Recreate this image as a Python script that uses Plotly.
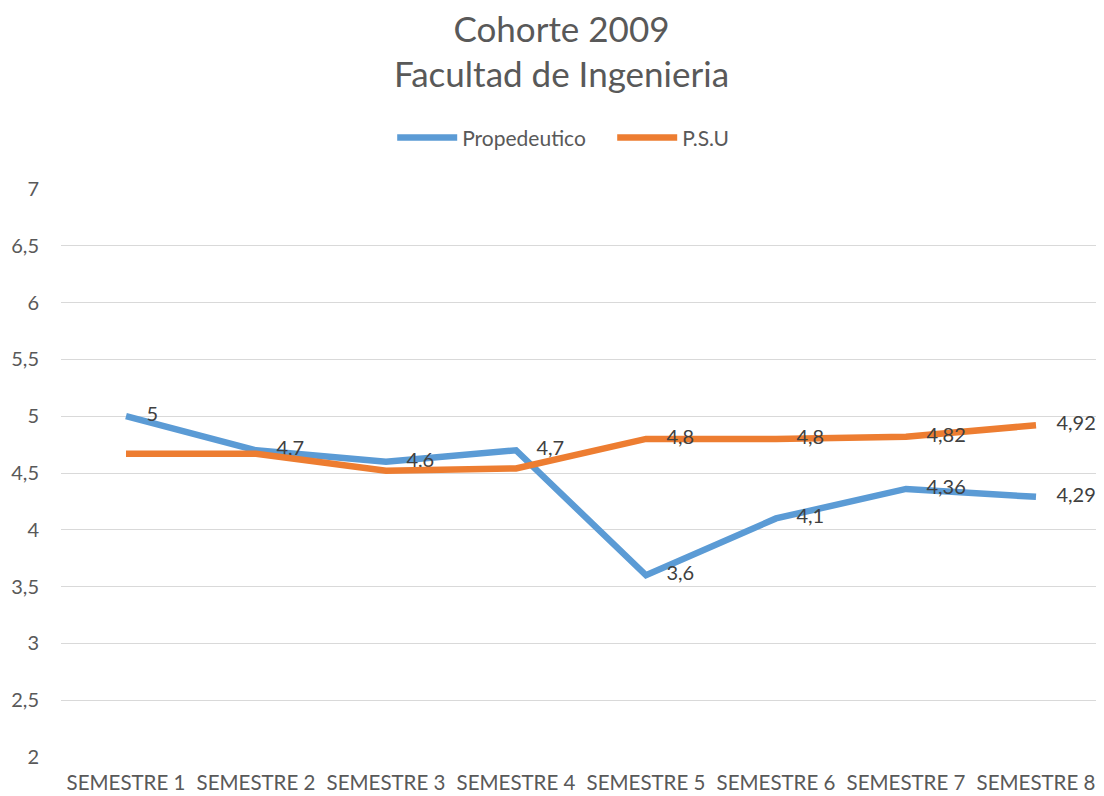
import plotly.graph_objects as go

categories = ["SEMESTRE 1", "SEMESTRE 2", "SEMESTRE 3", "SEMESTRE 4",
              "SEMESTRE 5", "SEMESTRE 6", "SEMESTRE 7", "SEMESTRE 8"]
propedeutico = [5, 4.7, 4.6, 4.7, 3.6, 4.1, 4.36, 4.29]
psu = [4.67, 4.67, 4.52, 4.54, 4.8, 4.8, 4.82, 4.92]
prop_labels = ["5", "4,7", "4,6", "4,7", "3,6", "4,1", "4,36", "4,29"]
psu_labels = ["", "", "", "", "4,8", "4,8", "4,82", "4,92"]
y_ticks = [2, 2.5, 3, 3.5, 4, 4.5, 5, 5.5, 6, 6.5, 7]

FONT = "Lato"
TXT = "#404040"
GREY = "#595959"
PAD = "    "

fig = go.Figure()
fig.add_trace(go.Scatter(
    x=categories, y=propedeutico, name="Propedeutico", mode="lines+text",
    line=dict(color="#5B9BD5", width=6.5),
    text=[PAD + t for t in prop_labels], textposition="middle right",
    textfont=dict(family=FONT, size=20, color=TXT), cliponaxis=False,
))
fig.add_trace(go.Scatter(
    x=categories, y=psu, name="P.S.U", mode="lines+text",
    line=dict(color="#ED7D31", width=6.5),
    text=[(PAD + t) if t else "" for t in psu_labels], textposition="middle right",
    textfont=dict(family=FONT, size=20, color=TXT), cliponaxis=False,
))

fig.update_layout(
    width=1096, height=788,
    paper_bgcolor="white", plot_bgcolor="white",
    separators=",.",
    font=dict(family=FONT, color=GREY),
    title=dict(text="Cohorte 2009<br>Facultad de Ingenieria", x=0.505, xanchor="center",
               y=0.957, yanchor="top", font=dict(family=FONT, size=35, color=GREY)),
    legend=dict(orientation="h", x=0.53, xanchor="center", y=1.09, yanchor="middle",
                font=dict(family=FONT, size=21, color=GREY), itemwidth=60,
                entrywidth=145, entrywidthmode="pixels"),
    margin=dict(l=53, r=3, t=181, b=39, autoexpand=False),
    xaxis=dict(range=[-0.5, 7.5], showgrid=False, showline=False, zeroline=False, ticks="",
               tickfont=dict(family=FONT, size=20.5, color=GREY), ticklabelstandoff=11,
               automargin=False),
    yaxis=dict(range=[2, 7], tickvals=y_ticks, showgrid=True, gridcolor="#D9D9D9",
               gridwidth=1, zeroline=False, showline=False, ticks="",
               tickfont=dict(family=FONT, size=20, color=GREY), ticklabelstandoff=21,
               automargin=False),
    showlegend=True,
)

fig.write_html("out.html")
